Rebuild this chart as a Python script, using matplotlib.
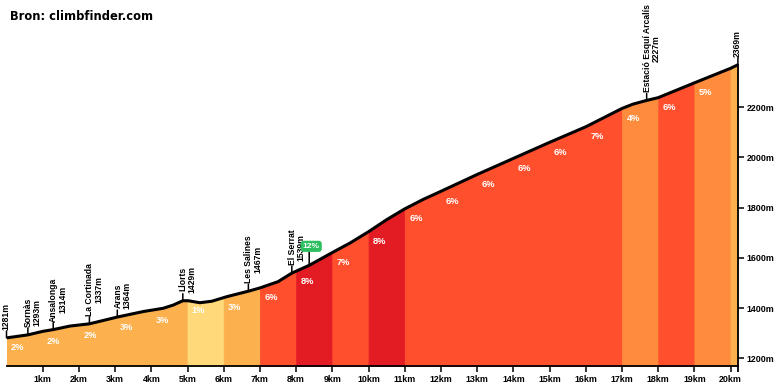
import numpy as np
import matplotlib
matplotlib.use("Agg")
import matplotlib.pyplot as plt

# ----------------------------------------------------------------------
# data
# ----------------------------------------------------------------------
dist_km = [0.0, 0.59, 1.0, 1.29, 1.75, 2.29, 2.86, 3.06, 3.78, 4.33, 4.61,
           4.87, 5.02, 5.34, 5.67, 6.08, 6.68, 7.0, 7.5, 7.88, 8.36, 9.0,
           9.5, 10.0, 10.5, 11.0, 11.5, 12.0, 13.0, 14.0, 15.0, 16.0, 17.0,
           17.3, 17.68, 18.0, 19.0, 20.0, 20.2]
elev_m = [1281, 1293, 1307, 1314, 1328, 1337, 1357, 1364, 1386, 1399, 1412,
          1429, 1429, 1421, 1427, 1445, 1467, 1480, 1505, 1539, 1570, 1621,
          1660, 1704, 1752, 1795, 1832, 1865, 1932, 1996, 2060, 2122, 2195,
          2212, 2227, 2238, 2297, 2355, 2369]

seg_edges = [0, 1, 2, 3, 4, 5, 6, 7, 8, 9, 10, 11, 12, 13, 14, 15, 16, 17,
             18, 19, 20, 20.2]
seg_grade = [2, 2, 2, 3, 3, 1, 3, 6, 8, 7, 8, 6, 6, 6, 6, 6, 7, 4, 6, 5, 3]
seg_label = ["2%", "2%", "2%", "3%", "3%", "1%", "3%", "6%", "8%", "7%", "8%",
             "6%", "6%", "6%", "6%", "6%", "7%", "4%", "6%", "5%", ""]

marker_km = [0.0, 0.59, 1.29, 2.29, 3.06, 4.87, 6.68, 7.88, 17.68, 20.2]
marker_name = ["", "Sornàs", "Ansalonga", "La Cortinada", "Arans", "Llorts",
               "Les Salines", "El Serrat", "Estació Esquí Arcalís", ""]
marker_elev = [1281, 1293, 1314, 1337, 1364, 1429, 1467, 1539, 2227, 2369]

max_grade_km = 8.36
max_grade_label = "12%"

x_ticks = list(range(1, 21))
y_ticks = [1200, 1400, 1600, 1800, 2000, 2200]


def grade_color(g):
    if g <= 1:
        return "#FFD97A"
    if g <= 3:
        return "#FCB14E"
    if g <= 5:
        return "#FF8C3C"
    if g <= 7:
        return "#FF4F2D"
    return "#E31C23"


FONT = "Liberation Sans"
plt.rcParams["font.family"] = [FONT, "DejaVu Sans"]

fig = plt.figure(figsize=(7.8, 3.9), dpi=100)
ax = fig.add_axes([6.5 / 780, 24 / 390, 731.4 / 780, 366 / 390])
y_lo, y_hi = 1169, 2627
ax.set_xlim(0, 20.2)
ax.set_ylim(y_lo, y_hi)

d = np.array(dist_km)
e = np.array(elev_m)

# --- coloured gradient segments ---
for i, g in enumerate(seg_grade):
    a, b = seg_edges[i], seg_edges[i + 1]
    inner = d[(d > a) & (d < b)]
    xs = np.concatenate([[a], inner, [b]])
    ys = np.interp(xs, d, e)
    c = grade_color(g)
    ax.fill_between(xs, y_lo, ys, color=c, ec=c, lw=0.6, zorder=1)
    if seg_label[i]:
        ax.text(a + 0.12, np.interp(a, d, e) - 40, seg_label[i], color="white",
                fontsize=6.7, fontweight="bold", ha="left", va="center", zorder=3)

# --- profile line ---
ax.plot(d, e, color="black", lw=2.2, zorder=4, solid_capstyle="round")

# --- place markers ---
for km, name, h in zip(marker_km, marker_name, marker_elev):
    ax.annotate("", xy=(km, h), xytext=(0, 7), textcoords="offset pixels",
                arrowprops=dict(arrowstyle="-", lw=1.1, color="black",
                                shrinkA=0, shrinkB=0), zorder=5)
    txt = f"{name}\n{h}m" if name else f"{h}m"
    dx = 5 if name else -1
    ax.annotate(txt, xy=(km, h), xytext=(dx, 8), textcoords="offset pixels",
                rotation=90, ha="center", va="bottom", fontsize=6.2,
                fontweight="bold", linespacing=1.0, annotation_clip=False,
                zorder=5)

# --- steepest section badge ---
h_max = np.interp(max_grade_km, d, e)
ax.annotate("", xy=(max_grade_km, h_max), xytext=(0, 14), textcoords="offset pixels",
            arrowprops=dict(arrowstyle="-", lw=1.1, color="black",
                            shrinkA=0, shrinkB=0), zorder=6)
ax.annotate(max_grade_label, xy=(max_grade_km, h_max), xytext=(2, 19),
            textcoords="offset pixels", ha="center", va="center", fontsize=6,
            fontweight="bold", color="white", zorder=7,
            bbox=dict(boxstyle="round,pad=0.25,rounding_size=0.4",
                      fc="#2DBE60", ec="none"))

# --- axes styling ---
for side in ("left", "top"):
    ax.spines[side].set_visible(False)
ax.spines["bottom"].set_linewidth(1.3)
ax.spines["right"].set_linewidth(1.3)
ax.spines["right"].set_bounds(y_lo, elev_m[-1])
ax.spines["right"].set_zorder(6)

ax.set_xticks(x_ticks)
ax.set_xticklabels([f"{k}km" for k in x_ticks])
ax.set_xticks([20.2], minor=True)
ax.tick_params(axis="x", which="major", length=4, width=1.1, pad=2.5,
               labelsize=6.4)
ax.tick_params(axis="x", which="minor", length=4, width=1.3)

ax.yaxis.tick_right()
ax.set_yticks(y_ticks)
ax.set_yticklabels([f"{v}m" for v in y_ticks])
ax.tick_params(axis="y", length=4.5, width=1.1, pad=2, labelsize=6.4)
for lbl in ax.get_xticklabels() + ax.get_yticklabels():
    lbl.set_fontweight("bold")

fig.text(10 / 780, 1 - 16 / 390, "Bron: climbfinder.com", fontsize=8.3,
         fontweight="bold", family="DejaVu Sans", ha="left", va="center")

fig.savefig("out.png", dpi=100)
